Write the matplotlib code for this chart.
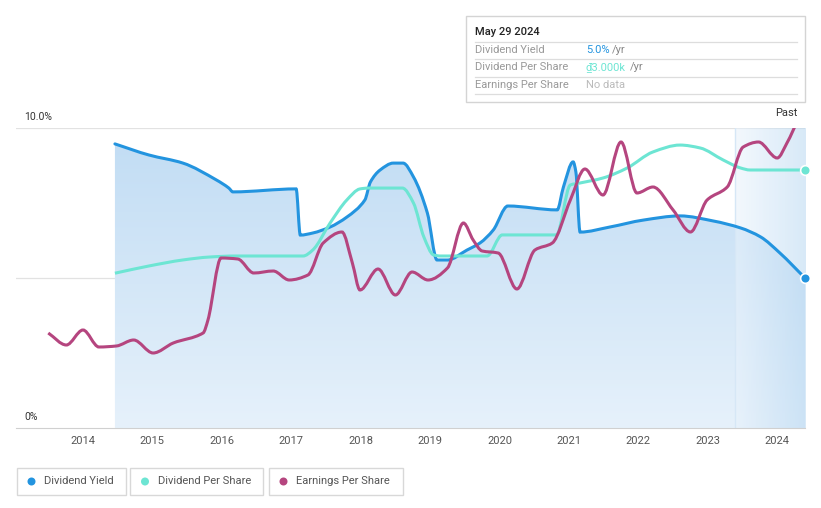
import numpy as np
import matplotlib
matplotlib.use("Agg")
import matplotlib.pyplot as plt
from matplotlib.path import Path
from matplotlib.patches import PathPatch, Rectangle, Ellipse
from matplotlib.transforms import blended_transform_factory
from matplotlib.colors import LinearSegmentedColormap

plt.rcParams['font.family'] = ['Roboto', 'DejaVu Sans']

# dividend yield (%)
yield_x = [2014.46, 2014.95, 2015.44, 2015.92, 2016.10, 2016.16, 2017.07, 2017.13,
           2017.31, 2017.56, 2017.80, 2018.06, 2018.14, 2018.28, 2018.47, 2018.61,
           2018.76, 2018.96, 2019.10, 2019.25, 2019.53, 2019.72, 2019.91, 2020.12,
           2020.83, 2020.92, 2021.06, 2021.10, 2021.16, 2021.59, 2022.07, 2022.60,
           2023.08, 2023.47, 2023.76, 2024.04, 2024.40]
yield_y = [9.47, 9.10, 8.83, 8.27, 8.00, 7.87, 7.97, 6.43,
           6.50, 6.70, 7.03, 7.60, 8.20, 8.60, 8.83, 8.83,
           8.37, 7.17, 5.60, 5.60, 5.93, 6.17, 6.60, 7.40,
           7.27, 8.03, 8.87, 8.53, 6.53, 6.70, 6.93, 7.07,
           6.90, 6.67, 6.37, 5.83, 5.00]

# dividend per share (VND)
dps_x = [2014.46, 2014.95, 2015.44, 2015.82, 2016.20, 2017.17, 2017.31, 2017.56,
         2017.80, 2017.99, 2018.12, 2018.60, 2018.76, 2018.91, 2019.05, 2019.15,
         2019.82, 2020.04, 2020.82, 2021.02, 2021.16, 2021.49, 2021.84, 2022.21,
         2022.60, 2022.89, 2023.22, 2023.47, 2023.61, 2024.40]
dps_y = [1800, 1884, 1954, 1988, 2000, 2000, 2070, 2384,
         2651, 2780, 2790, 2790, 2617, 2221, 2012, 2000,
         2000, 2245, 2245, 2826, 2849, 2907, 3024, 3210,
         3290, 3256, 3117, 3024, 3000, 3000]

# earnings per share (VND)
eps_x = [2013.50, 2013.76, 2014.00, 2014.23, 2014.48, 2014.73, 2015.01, 2015.30,
         2015.73, 2015.80, 2015.99, 2016.23, 2016.46, 2016.74, 2016.97, 2017.24,
         2017.46, 2017.73, 2017.88, 2017.99, 2018.25, 2018.50, 2018.74, 2018.97,
         2019.25, 2019.48, 2019.62, 2019.75, 2019.98, 2020.25, 2020.51, 2020.76,
         2021.02, 2021.23, 2021.49, 2021.75, 2021.98, 2022.21, 2022.50, 2022.75,
         2022.99, 2023.28, 2023.51, 2023.73, 2024.00, 2024.14, 2024.31]
eps_y = [1900, 1660, 1960, 1620, 1640, 1760, 1500, 1700,
         1900, 2160, 3400, 3380, 3100, 3140, 2960, 3060,
         3700, 3920, 3300, 2760, 3180, 2660, 3120, 2960,
         3200, 4100, 3760, 3540, 3500, 2780, 3560, 3700,
         4560, 5180, 4660, 5720, 4700, 4820, 4360, 3920,
         4560, 4820, 5620, 5720, 5400, 5700, 6200]

years = list(range(2014, 2025))
past_start = 2023.39
x_min, x_max = 2013.035, 2024.40

blue = '#2394df'
teal = '#6de5d3'
purple = '#b5457f'


def smooth_path(x, y, close_to=None):
    x = np.asarray(x, float)
    y = np.asarray(y, float)
    h = np.diff(x)
    d = np.diff(y) / h
    m = np.zeros_like(y)
    m[0], m[-1] = d[0], d[-1]
    for i in range(1, len(y) - 1):
        if d[i - 1] * d[i] > 0:
            m[i] = 2.0 / (1.0 / d[i - 1] + 1.0 / d[i])
    verts = [(x[0], y[0])]
    codes = [Path.MOVETO]
    for i in range(len(h)):
        verts += [(x[i] + h[i] / 3, y[i] + m[i] * h[i] / 3),
                  (x[i + 1] - h[i] / 3, y[i + 1] - m[i + 1] * h[i] / 3),
                  (x[i + 1], y[i + 1])]
        codes += [Path.CURVE4] * 3
    if close_to is not None:
        verts += [(x[-1], close_to), (x[0], close_to), (x[0], y[0])]
        codes += [Path.LINETO, Path.LINETO, Path.CLOSEPOLY]
    return Path(verts, codes)


fig = plt.figure(figsize=(8.21, 5.08), dpi=100)
ax = fig.add_axes([16 / 821, 80 / 508, 789 / 821, 300 / 508])
ax.set_xlim(x_min, x_max)
ax.set_ylim(0, 10)

# area under the yield line, darker at the top
area = PathPatch(smooth_path(yield_x, yield_y, close_to=0), facecolor='none', edgecolor='none')
ax.add_patch(area)
grad = np.linspace(0, 1, 256).reshape(-1, 1)
cm_area = LinearSegmentedColormap.from_list('a', ['#e6f1fb', '#c2ddf4'])
im = ax.imshow(grad, cmap=cm_area, extent=[x_min, x_max, 0, 9.6], aspect='auto',
               origin='lower', zorder=1)
im.set_clip_path(area)

# past region
cm_past = LinearSegmentedColormap.from_list('p', ['#eaf3fc', '#b8d8f2'])
ax.imshow(np.linspace(0, 1, 256).reshape(1, -1), cmap=cm_past,
          extent=[past_start, x_max, 0, 10], aspect='auto', alpha=0.55, zorder=2)
ax.axvline(past_start, color='#d6e7f6', lw=1, zorder=2)
ax.set_xlim(x_min, x_max)
ax.set_ylim(0, 10)

ax.add_patch(PathPatch(smooth_path(yield_x, yield_y), facecolor='none',
                       edgecolor=blue, lw=2.2, zorder=4, capstyle='round'))

for v in (5, 10):
    ax.axhline(v, color='#e2e2e2', lw=0.9, zorder=0)

for s in ('top', 'right', 'left'):
    ax.spines[s].set_visible(False)
ax.spines['bottom'].set_color('#d0d0d0')
ax.set_yticks([])
ax.set_xticks(years)
ax.set_xticklabels([str(y) for y in years])
ax.tick_params(axis='x', length=0, labelsize=8, colors='#555555', pad=6)

bt = blended_transform_factory(ax.transAxes, ax.transData)
ax.annotate('10.0%', (0.010, 10), xycoords=bt, xytext=(0, 4), textcoords='offset points',
            fontsize=7.5, color='#333333', va='bottom')
ax.annotate('0%', (0.010, 0), xycoords=bt, xytext=(0, 4), textcoords='offset points',
            fontsize=7.5, color='#333333', va='bottom')

# dividend per share
ax2 = ax.twinx()
ax2.set_ylim(0, 3000 * 300 / 258)
ax2.add_patch(PathPatch(smooth_path(dps_x, dps_y), facecolor='none',
                        edgecolor=teal, lw=2.2, zorder=3))
ax2.plot([dps_x[-1]], [dps_y[-1]], 'o', color=teal, ms=7, mec='white', mew=1.2,
         clip_on=False, zorder=6)

# earnings per share
ax3 = ax.twinx()
ax3.set_ylim(0, 6000)
ax3.add_patch(PathPatch(smooth_path(eps_x, eps_y), facecolor='none',
                        edgecolor=purple, lw=2.2, zorder=3))

for a in (ax2, ax3):
    a.set_xlim(x_min, x_max)
    a.set_yticks([])
    for s in a.spines.values():
        s.set_visible(False)

# yield end dot on top
ax4 = ax.twinx()
ax4.set_ylim(0, 10)
ax4.set_yticks([])
for s in ax4.spines.values():
    s.set_visible(False)
ax4.plot([yield_x[-1]], [yield_y[-1]], 'o', color=blue, ms=7, mec='white', mew=1.2,
         clip_on=False, zorder=6)
ax4.set_xlim(x_min, x_max)

# decorations in pixel coordinates
ov = fig.add_axes([0, 0, 1, 1], facecolor='none')
ov.set_xlim(0, 821)
ov.set_ylim(508, 0)
ov.axis('off')

ov.text(797, 113, 'Past', ha='right', va='center', fontsize=8, color='#333333')

# tooltip
ov.add_patch(Rectangle((466, 16), 339, 86, facecolor='white', edgecolor='#d4d4d4', lw=1))
ov.text(475, 32, 'May 29 2024', fontsize=8, color='#222222', va='center', fontweight='medium')
for yy in (42, 59, 77, 94):
    ov.plot([475, 797], [yy, yy], color='#dddddd', lw=0.9)
rows = [('Dividend Yield', '5.0%', blue, 612),
        ('Dividend Per Share', '\u20ab3.000k', teal, 630),
        ('Earnings Per Share', 'No data', '#bbbbbb', None)]
for i, (lab, val, col, unit_x) in enumerate(rows):
    yy = 50 + i * 17.5
    ov.text(475, yy, lab, fontsize=8, color='#999999', va='center')
    ov.text(586, yy, val, fontsize=8, color=col, va='center')
    if unit_x:
        ov.text(unit_x, yy, '/yr', fontsize=8, color='#888888', va='center')

# legend
legend_items = [('Dividend Yield', blue, 16.5, 109),
                ('Dividend Per Share', teal, 130, 133),
                ('Earnings Per Share', purple, 268.5, 134)]
for lab, col, x0, w in legend_items:
    ov.add_patch(Rectangle((x0, 468), w, 27, facecolor='white', edgecolor='#d8d8d8', lw=1))
    ov.add_patch(Ellipse((x0 + 15, 481.5), 8, 8, facecolor=col, edgecolor='none'))
    ov.text(x0 + 27.5, 481.5, lab, fontsize=8, color='#555555', va='center')

fig.savefig('out.png', dpi=100)
